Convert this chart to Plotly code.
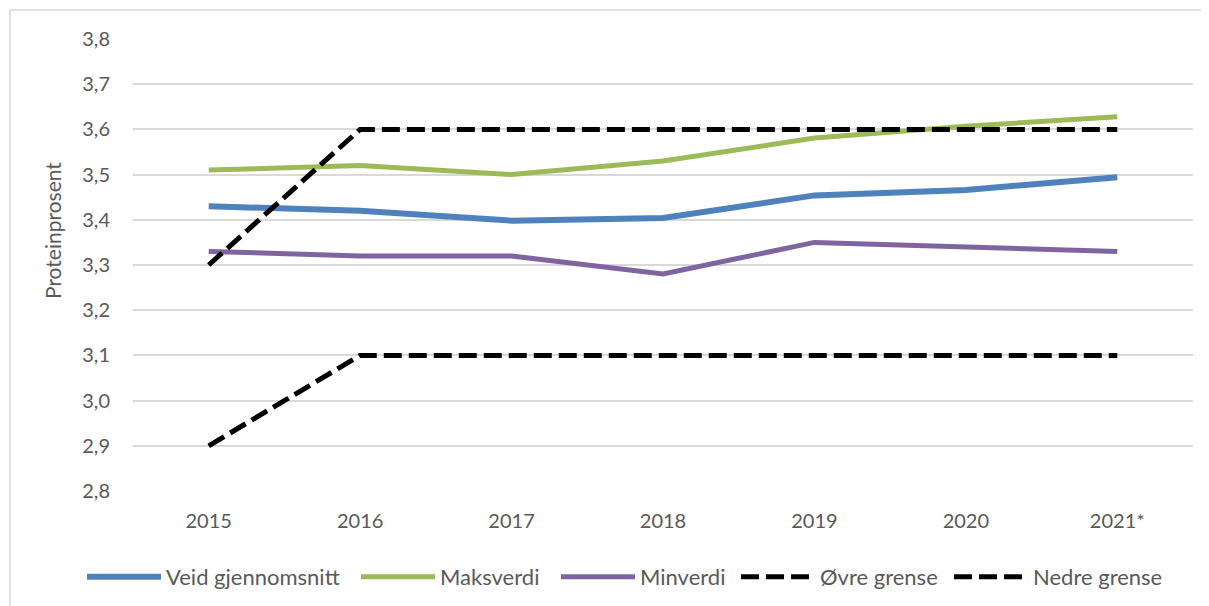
import plotly.graph_objects as go

years = ["2015", "2016", "2017", "2018", "2019", "2020", "2021*"]
veid = [3.43, 3.42, 3.398, 3.404, 3.454, 3.466, 3.494]
maks = [3.51, 3.52, 3.50, 3.53, 3.581, 3.607, 3.628]
minv = [3.33, 3.32, 3.32, 3.28, 3.35, 3.34, 3.33]
ovre = [3.3, 3.6, 3.6, 3.6, 3.6, 3.6, 3.6]
nedre = [2.9, 3.1, 3.1, 3.1, 3.1, 3.1, 3.1]

FONT = "Lato, Roboto, sans-serif"
GREY = "#595959"
DASH = "18px,7px"

# page body has an 8px margin; work in figure coordinates
OFF = 8
W, H = 1209, 606
L, T = 133 - OFF, 39 - OFF
R = W - (1193 - OFF)
B = H - (491 - OFF)
pw, ph = W - L - R, H - T - B
def px(x): return (x - OFF - L) / pw
def py(y): return (H - B - (y - OFF)) / ph

series = [
    ("Veid gjennomsnitt", veid, dict(color="#4F81BD", width=6)),
    ("Maksverdi", maks, dict(color="#9BBB59", width=5)),
    ("Minverdi", minv, dict(color="#8064A2", width=5)),
    ("Øvre grense", ovre, dict(color="black", width=5, dash=DASH)),
    ("Nedre grense", nedre, dict(color="black", width=5, dash=DASH)),
]
legend_text_x = [166, 440, 640, 820, 1033]

fig = go.Figure()
legends = {}
for i, (name, vals, line) in enumerate(series):
    lk = "legend" if i == 0 else f"legend{i+1}"
    fig.add_trace(go.Scatter(x=years, y=vals, name=name, mode="lines", line=line,
                             legend=lk))
    legends[lk] = dict(orientation="h", x=px(legend_text_x[i] - 84), xanchor="left",
                       y=py(577), yanchor="middle", bgcolor="rgba(0,0,0,0)",
                       font=dict(size=22, color=GREY), itemwidth=74)

fig.update_layout(
    width=W, height=H,
    margin=dict(l=L, r=R, t=T, b=B),
    paper_bgcolor="white", plot_bgcolor="white",
    separators=", ",
    font=dict(family=FONT, color=GREY, size=20),
    showlegend=True,
    xaxis=dict(type="category", showgrid=False, showline=False, ticks="",
               tickfont=dict(size=20, color=GREY), range=[-0.5, 6.5], ticklabelstandoff=16),
    yaxis=dict(range=[2.8, 3.8], dtick=0.1, tickformat=".1f", showgrid=True,
               gridcolor="#D9D9D9", gridwidth=1.5, zeroline=False, showline=False,
               tickfont=dict(size=20, color=GREY), ticklabelstandoff=22),
    annotations=[dict(text="Proteinprosent", textangle=-90, xref="paper", yref="paper",
                      x=px(52), y=py(231), xanchor="center", yanchor="middle", showarrow=False,
                      font=dict(size=21, color=GREY))],
    shapes=[dict(type="rect", xref="paper", yref="paper",
                 x0=px(10), x1=px(1300), y0=py(700), y1=py(10),
                 line=dict(color="#D9D9D9", width=1.5), fillcolor="rgba(0,0,0,0)", layer="below")],
    **legends,
)
fig.write_html("out.html")
